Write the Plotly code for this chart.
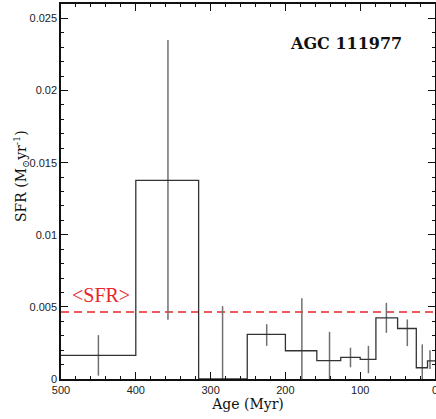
import plotly.graph_objects as go

# Histogram bin edges (Myr) and SFR values
bin_edges = [500, 400, 316, 251, 200, 158, 126, 100, 79, 50, 25, 10, 0]
sfr_values = [0.00164, 0.01377, 0.0, 0.0031, 0.00196, 0.00127, 0.0015, 0.00136,
              0.00424, 0.0035, 0.00078, 0.00125]

# Error bars: position, upper and lower limits
err_age = [450, 357, 284, 225, 178, 141, 113, 89, 65, 37, 17, 6.7]
err_hi = [0.00304, 0.0235, 0.00505, 0.0038, 0.0056, 0.00327, 0.00217, 0.0023,
          0.00528, 0.00413, 0.0024, 0.0020]
err_lo = [0.00023, 0.0041, 0.0, 0.0023, 0.0, 0.0, 0.00081, 0.0004,
          0.0032, 0.00228, 0.0, 0.0007]

mean_sfr = 0.00464

# step outline
step_x = bin_edges
step_y = sfr_values + [sfr_values[-1]]

# error bar centre = value of bin at that position
def bin_value(a):
    for i in range(len(sfr_values)):
        if bin_edges[i] >= a >= bin_edges[i + 1]:
            return sfr_values[i]
    return 0

err_mid = [bin_value(a) for a in err_age]

fig = go.Figure()
fig.add_trace(go.Scatter(
    x=[bin_edges[0], bin_edges[-1]], y=[mean_sfr, mean_sfr], mode="lines",
    line=dict(color="#e8262a", width=1.5, dash="8px,5px"), hoverinfo="skip"))
fig.add_trace(go.Scatter(
    x=err_age, y=err_mid, mode="markers", marker=dict(size=0.1, color="rgba(0,0,0,0)"),
    error_y=dict(type="data", symmetric=False,
                 array=[h - m for h, m in zip(err_hi, err_mid)],
                 arrayminus=[m - l for m, l in zip(err_mid, err_lo)],
                 color="#707070", thickness=1.5, width=0)))
fig.add_trace(go.Scatter(
    x=step_x, y=step_y, mode="lines", line_shape="hv",
    line=dict(color="#333333", width=1.3)))

axis_common = dict(
    showgrid=False, zeroline=False, showline=True, linecolor="#111", linewidth=1.5,
    mirror="ticks", ticks="inside", ticklen=7, tickwidth=1, tickcolor="#111",
    tickfont=dict(family="Liberation Sans", size=11, color="#222"),
    automargin=False, ticklabeloverflow="allow",
)

fig.update_xaxes(
    range=[500, 0], dtick=100, tick0=0,
    minor=dict(dtick=20, ticks="inside", ticklen=3.5, tickcolor="#111"),
    title=dict(text="Age (Myr)", font=dict(family="DejaVu Serif", size=14, color="#111"),
               standoff=2),
    **axis_common)
fig.update_yaxes(
    range=[0, 0.026], dtick=0.005, tick0=0, tickformat="~g",
    minor=dict(dtick=0.001, ticks="inside", ticklen=3.5, tickcolor="#111"),
    **axis_common)

# y-axis title (placed slightly above the axis centre, as in the reference)
fig.add_annotation(xref="paper", yref="paper", x=-0.108, y=0.54,
                   text="SFR (M<sub>⊙</sub>yr<sup>-1</sup>)", textangle=-90,
                   showarrow=False, xanchor="center", yanchor="middle",
                   font=dict(family="DejaVu Serif", size=14, color="#111"))

fig.add_annotation(x=488, y=0.0058, text="&lt;SFR&gt;", showarrow=False,
                   xanchor="left", yanchor="middle",
                   font=dict(family="Liberation Serif", size=20, color="#e8262a"))
fig.add_annotation(x=119, y=0.02325, text="<b>AGC 111977</b>", showarrow=False,
                   xanchor="center", yanchor="middle",
                   font=dict(family="DejaVu Serif", size=16, color="#111"))

fig.update_layout(
    width=436, height=419, showlegend=False,
    margin=dict(l=61, r=1, t=4, b=40),
    plot_bgcolor="white", paper_bgcolor="white",
)

fig.write_html("out.html")
